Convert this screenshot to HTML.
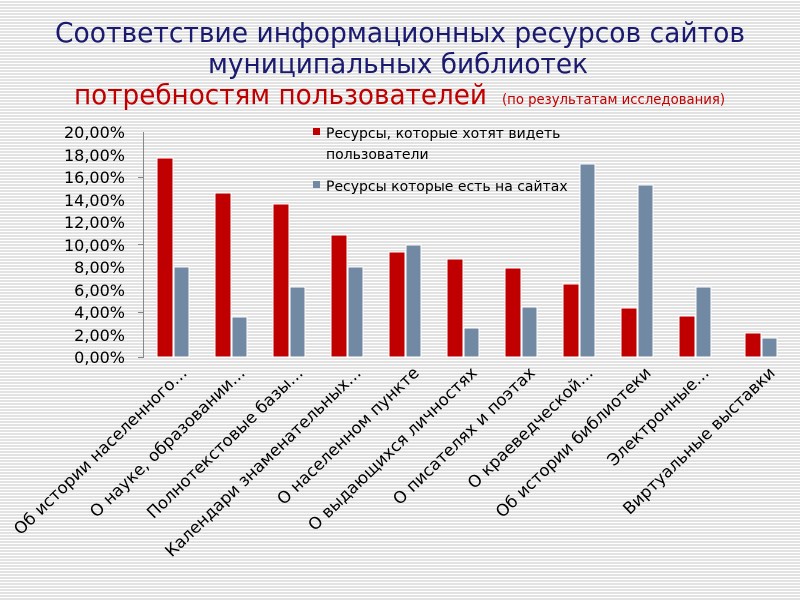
<!DOCTYPE html>
<html><head><meta charset="utf-8"><style>
html,body{margin:0;padding:0;}
body{width:800px;height:600px;overflow:hidden;background:#fff repeating-linear-gradient(to bottom,#fff 0px,#fff 1px,#e2e2e2 1px,#e2e2e2 3px);}
svg{display:block}
</style></head><body>
<svg width="800" height="600" xmlns="http://www.w3.org/2000/svg" font-family="'DejaVu Sans',Verdana,sans-serif">
<g font-family="'DejaVu Sans',sans-serif">
<text x="400" y="42" text-anchor="middle" font-size="28" fill="#1a1a6e" textLength="690" lengthAdjust="spacingAndGlyphs">Соответствие информационных ресурсов сайтов</text>
<text x="208" y="73" font-size="28" fill="#1a1a6e" textLength="380" lengthAdjust="spacingAndGlyphs">муниципальных библиотек</text>
<text x="74" y="104" font-size="28" fill="#c00000" textLength="413" lengthAdjust="spacingAndGlyphs">потребностям пользователей</text>
<text x="502" y="104" font-size="14" fill="#c00000" textLength="223" lengthAdjust="spacingAndGlyphs">(по результатам исследования)</text>
</g>
<g font-size="16" fill="#000" text-anchor="end">
<text x="125" y="138">20,00%</text><text x="125" y="161">18,00%</text><text x="125" y="183">16,00%</text><text x="125" y="206">14,00%</text><text x="125" y="228">12,00%</text><text x="125" y="251">10,00%</text><text x="125" y="273">8,00%</text><text x="125" y="296">6,00%</text><text x="125" y="318">4,00%</text><text x="125" y="341">2,00%</text><text x="125" y="363">0,00%</text>
</g>
<g stroke="#888" stroke-width="1">
<line x1="143.5" y1="132" x2="143.5" y2="358"/>
<line x1="138" y1="177.5" x2="143" y2="177.5"/><line x1="138" y1="244.5" x2="143" y2="244.5"/><line x1="138" y1="312.5" x2="143" y2="312.5"/><line x1="138" y1="357.5" x2="143" y2="357.5"/>
</g>
<g stroke="#fff" stroke-width="1">
<rect x="157" y="158" width="16" height="199" fill="#c00000"/><rect x="174" y="267" width="15" height="90" fill="#7189a3"/>
<rect x="215" y="193" width="16" height="164" fill="#c00000"/><rect x="232" y="317" width="15" height="40" fill="#7189a3"/>
<rect x="273" y="204" width="16" height="153" fill="#c00000"/><rect x="290" y="287" width="15" height="70" fill="#7189a3"/>
<rect x="331" y="235" width="16" height="122" fill="#c00000"/><rect x="348" y="267" width="15" height="90" fill="#7189a3"/>
<rect x="389" y="252" width="16" height="105" fill="#c00000"/><rect x="406" y="245" width="15" height="112" fill="#7189a3"/>
<rect x="447" y="259" width="16" height="98" fill="#c00000"/><rect x="464" y="328" width="15" height="29" fill="#7189a3"/>
<rect x="505" y="268" width="16" height="89" fill="#c00000"/><rect x="522" y="307" width="15" height="50" fill="#7189a3"/>
<rect x="563" y="284" width="16" height="73" fill="#c00000"/><rect x="580" y="164" width="15" height="193" fill="#7189a3"/>
<rect x="621" y="308" width="16" height="49" fill="#c00000"/><rect x="638" y="185" width="15" height="172" fill="#7189a3"/>
<rect x="679" y="316" width="16" height="41" fill="#c00000"/><rect x="696" y="287" width="15" height="70" fill="#7189a3"/>
<rect x="745" y="333" width="16" height="24" fill="#c00000"/><rect x="762" y="338" width="15" height="19" fill="#7189a3"/>
</g>
<rect x="313" y="128" width="7" height="7" fill="#c00000"/>
<text x="326" y="138" font-size="14">Ресурсы, которые хотят видеть</text>
<text x="326" y="159" font-size="14">пользователи</text>
<rect x="313" y="181" width="7" height="7" fill="#7189a3"/>
<text x="326" y="191" font-size="14">Ресурсы которые есть на сайтах</text>
<g font-size="16.5" text-anchor="end">
<text transform="translate(188,374) rotate(-44)">Об истории населенного…</text>
<text transform="translate(246,374) rotate(-44)">О науке, образовании…</text>
<text transform="translate(304,374) rotate(-44)">Полнотекстовые базы…</text>
<text transform="translate(362,374) rotate(-44)">Календари знаменательных…</text>
<text transform="translate(420,374) rotate(-44)">О населенном пункте</text>
<text transform="translate(478,374) rotate(-44)">О выдающихся личностях</text>
<text transform="translate(536,374) rotate(-44)">О писателях и поэтах</text>
<text transform="translate(594,374) rotate(-44)">О краеведческой…</text>
<text transform="translate(652,374) rotate(-44)">Об истории библиотеки</text>
<text transform="translate(710,374) rotate(-44)">Электронные…</text>
<text transform="translate(776,374) rotate(-44)">Виртуальные выставки</text>
</g>
</svg>
</body></html>
